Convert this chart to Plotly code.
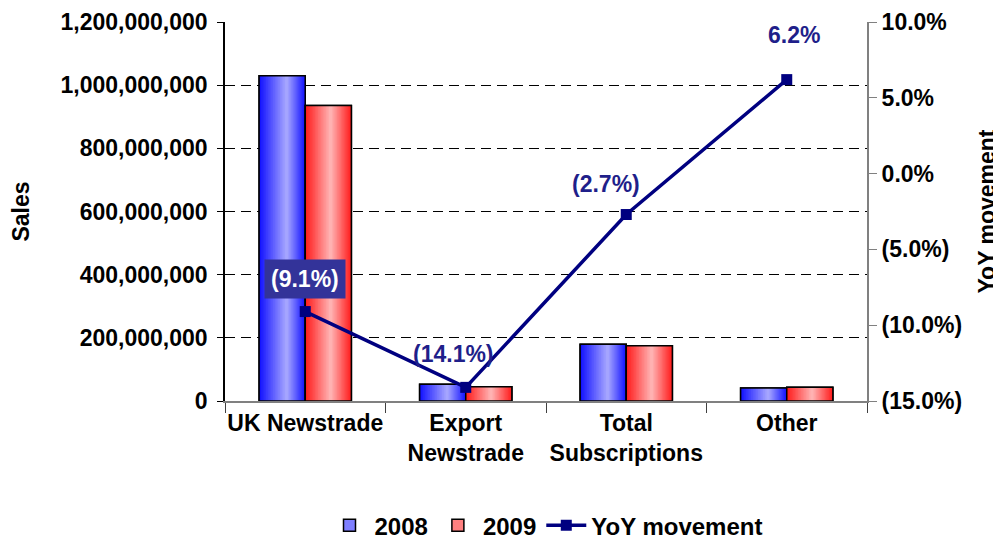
import plotly.graph_objects as go

categories = ["UK Newstrade", "Export<br>Newstrade", "Total<br>Subscriptions", "Other"]
sales_2008 = [1030000000, 53000000, 180000000, 41000000]
sales_2009 = [936000000, 45500000, 175000000, 43500000]
yoy = [-9.1, -14.1, -2.7, 6.2]
yoy_labels = ["(9.1%)", "(14.1%)", "(2.7%)", "6.2%"]
right_ticks = [-15, -10, -5, 0, 5, 10]
right_ticktext = ["(15.0%)", "(10.0%)", "(5.0%)", "0.0%", "5.0%", "10.0%"]

FONT = "Liberation Sans, Arial, sans-serif"
FS = 23
NAVY = "#000080"
half = 0.2875  # width of one bar in category units
N = 16

fig = go.Figure()


def mix(a, b, t):
    return "rgb(%d,%d,%d)" % tuple(round(a[i] + (b[i] - a[i]) * t) for i in range(3))


def gradient_bars(values, name, x0, edge, center, peak, legend_color):
    x1 = x0 + half
    p = x0 + peak * half
    # base bar used for the legend
    fig.add_trace(go.Bar(x=categories, y=values, name="<b>%s</b>" % name, offset=x0, width=half,
                         marker=dict(color=legend_color, line=dict(color="black", width=1.5)),
                         showlegend=True))
    for k in range(N):
        f = k / N
        left = x0 + f * (p - x0)
        right = x1 - f * (x1 - p)
        fig.add_trace(go.Bar(x=categories, y=values, offset=left, width=right - left,
                             marker=dict(color=mix(edge, center, k / (N - 1)), line=dict(width=0)),
                             showlegend=False, hoverinfo="skip"))
    fig.add_trace(go.Bar(x=categories, y=values, offset=x0, width=half,
                         marker=dict(color="rgba(0,0,0,0)", line=dict(color="black", width=1.5)),
                         showlegend=False, hoverinfo="skip"))


gradient_bars(sales_2008, "2008", -half, (20, 20, 255), (165, 165, 255), 0.6, "#7f7fff")
gradient_bars(sales_2009, "2009", 0.0, (255, 30, 30), (255, 178, 178), 0.55, "#ff8080")

fig.add_trace(go.Scatter(x=categories, y=yoy, yaxis="y2", name="<b>YoY movement</b>",
                         mode="lines+markers",
                         line=dict(color=NAVY, width=3.5),
                         marker=dict(symbol="square", size=11, color=NAVY)))

shifts = [(0, 33), (-12, 33), (-20, 31), (7, 45)]
for c, v, t, (dx, dy) in zip(categories, yoy, yoy_labels, shifts):
    first = t == "(9.1%)"
    fig.add_annotation(x=c, y=v, yref="y2", text="<b>%s</b>" % t, showarrow=False,
                       xshift=dx, yshift=dy,
                       font=dict(family=FONT, size=FS, color="white" if first else "#1F1F8A"),
                       bgcolor="#333399" if first else None, borderpad=6)

# page body adds an 8px offset, margins are compensated for it
fig.update_layout(
    width=1001, height=541,
    margin=dict(l=217, r=142, t=14, b=148),
    paper_bgcolor="white", plot_bgcolor="white",
    barmode="overlay",
    font=dict(family=FONT, size=FS, color="black"),
    xaxis=dict(type="category", range=[-0.5, 3.5], showgrid=False, automargin=False,
               showline=True, linecolor="#808080", linewidth=2, tickangle=0,
               ticks="outside", tickson="boundaries", ticklen=10, tickcolor="#404040",
               tickfont=dict(family=FONT, size=FS, color="black"),
               tickprefix="<b>", ticksuffix="</b>"),
    yaxis=dict(range=[0, 1200000000], dtick=200000000, tickformat=",", automargin=False,
               showgrid=True, gridcolor="black", griddash="10px,6px", gridwidth=1,
               zeroline=False, showline=True, linecolor="black", linewidth=1.5,
               ticks="outside", ticklen=6, tickcolor="black", ticklabelstandoff=5,
               tickprefix="<b>", ticksuffix="</b>",
               title=dict(text="<b>Sales</b>", standoff=35,
                          font=dict(family=FONT, size=FS, color="black"))),
    yaxis2=dict(overlaying="y", side="right", range=[-15, 10], automargin=False,
                tickvals=right_ticks, ticktext=["<b>%s</b>" % s for s in right_ticktext],
                showgrid=False, zeroline=False, showline=True,
                linecolor="#808080", linewidth=2,
                ticks="outside", ticklen=8, tickcolor="#808080",
                title=dict(text="<b>YoY movement</b>", standoff=18,
                           font=dict(family=FONT, size=FS, color="black"))),
    legend=dict(orientation="h", x=0.5, xanchor="center", xref="paper",
                y=0.043, yanchor="middle", yref="container",
                font=dict(family=FONT, size=24, color="black"),
                itemwidth=40, traceorder="normal"),
    showlegend=True,
)

fig.write_html("out.html")
